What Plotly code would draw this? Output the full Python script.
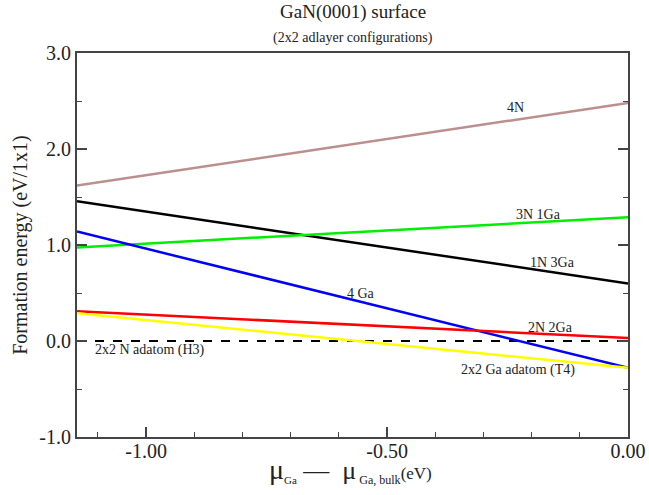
import plotly.graph_objects as go

x_ends = [-1.1435, 0.0]
series_names = ["4N", "1N 3Ga", "3N 1Ga", "4 Ga", "2N 2Ga", "2x2 Ga adatom (T4)"]
series_left = [1.62, 1.455, 0.975, 1.14, 0.31, 0.29]
series_right = [2.48, 0.60, 1.29, -0.28, 0.03, -0.28]
series_colors = ["#bc8f8f", "#000000", "#00ee00", "#0000ff", "#ff0000", "#ffff00"]
ref_name = "2x2 N adatom (H3)"
ref_values = [0.0, 0.0]

x_tick_vals = [-1.0, -0.5, 0.0]
x_tick_text = ["-1.00", "-0.50", "0.00"]
y_tick_vals = [-1.0, 0.0, 1.0, 2.0, 3.0]
y_tick_text = ["-1.0", "0.0", "1.0", "2.0", "3.0"]

label_texts = ["4N", "3N 1Ga", "1N 3Ga", "4 Ga", "2N 2Ga", "2x2 N adatom (H3)", "2x2 Ga adatom (T4)"]
label_x = [-0.233, -0.185, -0.156, -0.555, -0.160, -0.992, -0.229]
label_y = [2.43, 1.32, 0.82, 0.49, 0.14, -0.097, -0.30]

FONT = "Liberation Serif"

fig = go.Figure()
fig.add_trace(go.Scatter(x=x_ends, y=ref_values, mode="lines", name=ref_name,
                         line=dict(color="black", width=2, dash="dash")))
for name, l, r, c in zip(series_names, series_left, series_right, series_colors):
    fig.add_trace(go.Scatter(x=x_ends, y=[l, r], mode="lines", name=name,
                             line=dict(color=c, width=2.5)))

annotations = []
for t, xx, yy in zip(label_texts, label_x, label_y):
    annotations.append(dict(x=xx, y=yy, xref="x", yref="y", text=t, showarrow=False,
                            font=dict(family=FONT, size=14, color="#222")))
annotations.append(dict(x=0.5, y=1.106, xref="paper", yref="paper", yanchor="middle",
                        text="GaN(0001) surface",
                        showarrow=False, font=dict(family=FONT, size=19, color="#222")))
annotations.append(dict(x=0.5, y=1.038, xref="paper", yref="paper", yanchor="middle",
                        text="(2x2 adlayer configurations)",
                        showarrow=False, font=dict(family=FONT, size=14, color="#222")))

xtitle = ('<span style="font-size:28px">μ</span><sub><span style="font-size:11px">Ga</span></sub>'
          '<span style="font-size:26px"> —  μ</span>'
          '<sub><span style="font-size:12px"> Ga, bulk</span></sub>'
          '<span style="font-size:17px">(eV)</span>')
annotations.append(dict(x=0.496, y=-0.088, xref="paper", yref="paper", yanchor="middle",
                        xanchor="center", text=xtitle, showarrow=False,
                        font=dict(family=FONT, size=26, color="#222")))

fig.update_layout(
    width=649, height=495,
    margin=dict(l=77, r=21, t=53, b=58, autoexpand=False),
    paper_bgcolor="white", plot_bgcolor="white",
    showlegend=False,
    annotations=annotations,
    font=dict(family=FONT, color="#222"),
    xaxis=dict(range=[-1.1435, 0.0], tickmode="array", tickvals=x_tick_vals, ticktext=x_tick_text,
               ticks="inside", ticklen=10, tickwidth=1.5, tickcolor="#444",
               minor=dict(dtick=0.1, tick0=0, ticks="inside", ticklen=5, tickcolor="#444", tickwidth=1.2),
               showline=True, linecolor="#444", linewidth=2, mirror=True,
               showgrid=False, zeroline=False, automargin=False,
               ticklabelstandoff=-5,
               tickfont=dict(family=FONT, size=20, color="#222")),
    yaxis=dict(range=[-1.0, 3.0], tickmode="array", tickvals=y_tick_vals, ticktext=y_tick_text,
               ticks="inside", ticklen=10, tickwidth=1.5, tickcolor="#444",
               minor=dict(dtick=0.5, tick0=0, ticks="inside", ticklen=5, tickcolor="#444", tickwidth=1.2),
               showline=True, linecolor="#444", linewidth=2, mirror="ticks",
               showgrid=False, zeroline=False, automargin=False,
               tickfont=dict(family=FONT, size=20, color="#222"),
               title=dict(text="Formation energy (eV/1x1)", font=dict(family=FONT, size=20, color="#222"), standoff=6)),
)

fig.write_html("out.html", config={"displayModeBar": False},
               post_script="document.body.style.margin='0';")
